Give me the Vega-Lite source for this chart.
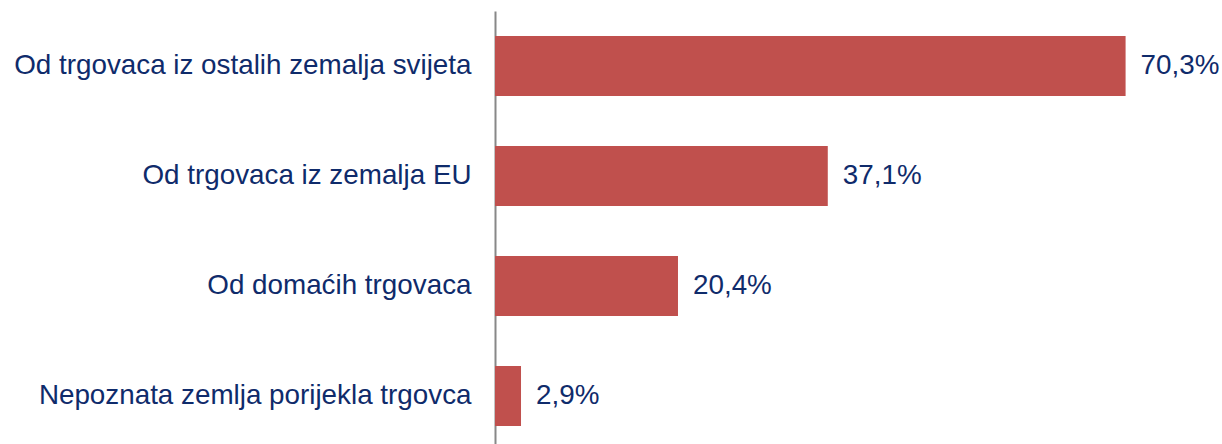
{
  "$schema": "https://vega.github.io/schema/vega-lite/v6.json",
  "autosize": "none",
  "width": 728,
  "height": 440,
  "padding": {"left": 495, "top": 11, "right": 0, "bottom": 0},
  "background": "white",
  "config": {
    "view": {"stroke": null},
    "locale": {"number": {"decimal": ",", "thousands": ".", "grouping": [3], "currency": ["", " €"]}}
  },
  "data": {"values": [
    {"kategorija": "Od trgovaca iz ostalih zemalja svijeta", "udio": 0.703},
    {"kategorija": "Od trgovaca iz zemalja EU", "udio": 0.371},
    {"kategorija": "Od domaćih trgovaca", "udio": 0.204},
    {"kategorija": "Nepoznata zemlja porijekla trgovca", "udio": 0.029}
  ]},
  "encoding": {
    "y": {
      "field": "kategorija", "type": "nominal", "sort": null,
      "scale": {"paddingInner": 0.4545, "paddingOuter": 0.2273},
      "axis": {
        "title": null, "ticks": false, "domainColor": "#888888", "domainWidth": 2,
        "labelFont": "Liberation Sans", "labelFontSize": 27.8, "labelColor": "#0F2B6B",
        "labelPadding": 24, "labelLimit": 600
      }
    },
    "x": {
      "field": "udio", "type": "quantitative",
      "scale": {"domain": [0, 0.8116]},
      "axis": null
    }
  },
  "layer": [
    {"mark": {"type": "bar", "color": "#C0504D"}},
    {
      "mark": {"type": "text", "align": "left", "baseline": "middle", "dx": 15, "font": "Liberation Sans", "fontSize": 27.8, "color": "#0F2B6B"},
      "encoding": {"text": {"field": "udio", "type": "quantitative", "format": ".1%"}}
    }
  ]
}
